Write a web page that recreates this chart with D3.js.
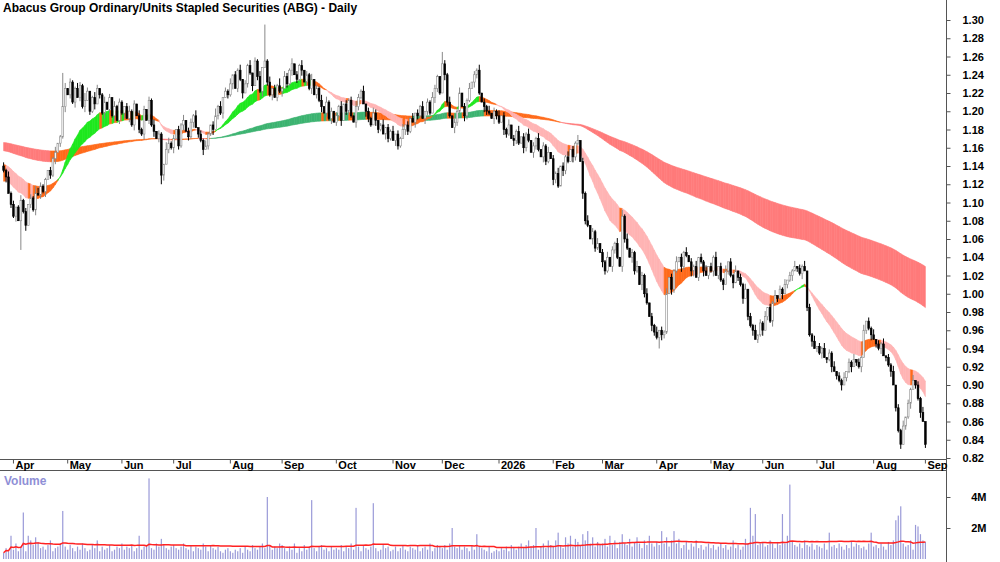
<!DOCTYPE html>
<html>
<head>
<meta charset="utf-8">
<script src="https://cdn.jsdelivr.net/npm/d3@7"></script>
<style>
body { margin: 0; background: #fff; }
text { font-family: "Liberation Sans", Arial, sans-serif; }
</style>
</head>
<body>
<script>
var svgWidth = 1000;
var svgHeight = 562;

// closing prices, in tenths of a cent (1135 = $1.135), one per trading day from 26 Mar 2025
var closes = [
  1135, 1128, 1110, 1098,
  // Apr
  1085, 1095, 1080, 1102, 1090, 1075, 1098, 1105, 1092, 1110, 1108, 1118, 1112, 1125, 1135, 1130, 1148, 1155, 1165, 1172, 1205, 1225,
  // May
  1218, 1232, 1210, 1225, 1215, 1228, 1205, 1212, 1222, 1200, 1215, 1208, 1225, 1218, 1198, 1210, 1202, 1215, 1195, 1205, 1190, 1210,
  // Jun
  1198, 1205, 1192, 1200, 1185, 1208, 1195, 1180, 1175, 1202, 1190, 1212, 1185, 1178, 1170, 1175, 1130, 1142, 1158, 1165, 1160,
  // Jul
  1170, 1180, 1162, 1185, 1190, 1178, 1172, 1188, 1195, 1182, 1175, 1168, 1158, 1162, 1175, 1185, 1180, 1195, 1205, 1198, 1215, 1222, 1218,
  // Aug
  1230, 1240, 1225, 1245, 1235, 1220, 1230, 1250, 1242, 1228, 1255, 1238, 1222, 1248, 1255, 1232, 1218, 1225, 1215, 1228, 1222,
  // Sep
  1225, 1238, 1230, 1245, 1252, 1240, 1235, 1250, 1245, 1232, 1240, 1225, 1235, 1218, 1225, 1212, 1205, 1198, 1210, 1192, 1200, 1188,
  // Oct
  1195, 1205, 1190, 1208, 1200, 1212, 1195, 1188, 1205, 1215, 1222, 1208, 1200, 1192, 1185, 1198, 1190, 1180, 1185, 1175, 1182, 1170, 1178,
  // Nov
  1168, 1175, 1162, 1170, 1180, 1185, 1178, 1192, 1188, 1198, 1195, 1205, 1192, 1200, 1210, 1198, 1215, 1225, 1238, 1220,
  // Dec
  1252, 1240, 1210, 1195, 1182, 1188, 1200, 1220, 1205, 1195, 1212, 1225, 1232, 1240, 1245, 1220, 1210, 1205, 1200, 1198, 1192, 1200, 1195,
  // Jan 2026
  1188, 1195, 1180, 1175, 1185, 1170, 1168, 1178, 1165, 1172, 1160, 1175, 1168, 1155, 1162, 1170, 1158, 1150, 1162, 1145, 1155, 1148,
  // Feb
  1125, 1132, 1118, 1140, 1135, 1150, 1145, 1158, 1150, 1165, 1168, 1145, 1110, 1080, 1075, 1060, 1068, 1050, 1055, 1045,
  // Mar
  1035, 1025, 1040, 1030, 1048, 1055, 1040, 1030, 1085, 1060, 1050, 1040, 1045, 1025, 1030, 1010, 1020, 1000, 990, 975, 965, 958,
  // Apr
  952, 960, 955, 958, 1000, 1018, 1005, 1025, 1035, 1040, 1030, 1045, 1042, 1035, 1025, 1030, 1018, 1040, 1035, 1025, 1020, 1030,
  // May
  1025, 1040, 1020, 1030, 1015, 1010, 1025, 1035, 1020, 1012, 1025, 1018, 1010, 995, 1005, 975, 965, 960, 950, 955, 968,
  // Jun
  960, 975, 985, 970, 990, 998, 995, 1005, 1000, 1010, 1015, 1020, 1025, 1030, 1028, 1022, 1030, 1025, 985, 955, 948, 940,
  // Jul
  942, 935, 940, 930, 928, 935, 920, 915, 910, 905, 900, 908, 915, 925, 920, 928, 925, 920, 930, 960, 970, 962, 955,
  // Aug
  950, 945, 940, 945, 932, 930, 922, 915, 900, 875, 850, 835, 855, 865, 880, 895, 905, 900, 885, 870, 860,
  // Sep
  835
];

// wick lengths above / below the body, one digit per day, in steps of 0.2c
var upperWicks =
  "2131201312021432110213012302113214201320130203121023120312021302104312" +
  "0213022130213102413021302130213021302130214032130213021302130312021302" +
  "1203213021320130213021302130213021321032130213021302130213021302130213" +
  "0213021302130213021302130213021302130213021302130213021302130213021302" +
  "1302130213021302130213021302130213021302130213021302130213021302130213" +
  "0213021302130213021302130213021302130";
var lowerWicks =
  "1302130213021302130213021302130213021302130213021302130213021302130213" +
  "0213021302130213021302130213021302130213021302130213021302130213021302" +
  "2103210321032103210321032103210321032103210321032103210321032103210321" +
  "0321032103210321032103210321032103210321032103210321032103210321032103" +
  "3021302130213021302130213021302130213021302130213021302130213021302130" +
  "2130213021302130213021302130213021302";

// days with a long tail, [day index, high, low]
var spikes = [
  [7, null, 1048], [24, 1242, null], [64, null, 1120], [106, 1295, null],
  [178, 1265, null], [251, 1092, null], [266, null, 940], [353 + 11, null, 830]
];

// daily volume, in units of 100k shares
var volumes = [
  4, 7, 5, 15,
  6, 10, 5, 8, 30, 5, 15, 12, 9, 14, 11, 7, 8, 6, 9, 12, 5, 7, 8, 10, 31, 8,
  6, 9, 7, 5, 8, 6, 10, 7, 5, 6, 9, 7, 12, 5, 8, 6, 7, 9, 5, 6, 8, 7,
  10, 6, 8, 7, 9, 5, 7, 15, 6, 8, 9, 52, 7, 6, 10, 8, 13, 9, 7, 6, 8,
  9, 7, 6, 8, 10, 7, 6, 9, 5, 8, 7, 6, 10, 8, 5, 9, 7, 6, 8, 5, 4, 6, 7,
  5, 4, 6, 5, 7, 4, 8, 6, 5, 9, 7, 6, 8, 10, 7, 40, 9, 6, 8, 7, 10,
  9, 7, 5, 8, 6, 10, 4, 7, 5, 9, 6, 8, 38, 7, 5, 8, 9, 6, 7, 5, 8, 6,
  7, 6, 9, 5, 8, 7, 10, 6, 33, 8, 5, 9, 7, 6, 8, 36, 7, 5, 6, 9, 7, 8, 5,
  6, 8, 5, 7, 9, 6, 5, 8, 7, 6, 9, 5, 7, 8, 6, 10, 5, 7, 9, 8,
  7, 9, 6, 10, 20, 8, 7, 9, 6, 8, 7, 5, 9, 6, 16, 8, 7, 6, 5, 8, 4, 5, 6,
  5, 7, 6, 8, 5, 9, 7, 6, 8, 10, 7, 9, 12, 8, 9, 20, 6, 8, 10, 7, 12, 9,
  8, 12, 17, 9, 7, 14, 10, 15, 8, 13, 11, 9, 16, 12, 18, 10, 14, 8, 11, 9,
  10, 13, 8, 15, 9, 12, 7, 11, 16, 10, 9, 13, 8, 11, 14, 10, 7, 12, 9, 15, 10, 8,
  11, 9, 18, 10, 14, 8, 12, 18, 10, 13, 7, 9, 11, 6, 10, 8, 12, 7, 9, 6, 8, 10,
  7, 9, 6, 8, 10, 7, 9, 6, 8, 12, 7, 9, 6, 8, 13, 10, 33, 15, 29, 9, 10,
  11, 8, 9, 12, 10, 7, 11, 9, 29, 10, 15, 48, 11, 9, 8, 10, 7, 12, 9, 8, 10, 6,
  9, 8, 7, 10, 6, 17, 8, 9, 7, 10, 8, 6, 9, 7, 11, 8, 10, 9, 7, 8, 6, 10, 17,
  8, 9, 7, 10, 8, 6, 11, 9, 12, 25, 28, 34, 10, 8, 9, 12, 6, 22, 21, 16, 12,
  11
];

var monthNames = ["2026", "Feb", "Mar", "Apr", "May", "Jun", "Jul", "Aug", "Sep", "Oct", "Nov", "Dec"];
var priceTicks = d3.range(82, 131, 2).map(function(d) { return d / 100; });
var volumeTicks = [2e6, 4e6];

// ribbon settings: EMA periods and the values they carry in from before the chart
var shortPeriods = [20, 35], shortSeed = [1.122, 1.142];
var longPeriods = [140, 230], longSeed = [1.157, 1.166];

var svg = d3.select("body").append("svg").attr("width", svgWidth).attr("height", svgHeight);

// trading days
var dates = [];
var day = new Date(2025, 2, 26);
while (dates.length < closes.length) {
    if (day.getDay() != 0 && day.getDay() != 6) dates.push(new Date(day));
    day = d3.timeDay.offset(day, 1);
}

var bars = closes.map(function(c, i) {
    var close = c / 1000;
    var open = (i == 0 ? 1140 : closes[i - 1]) / 1000;
    var up = +(upperWicks.charAt(i) || 1) * 0.002;
    var dn = +(lowerWicks.charAt(i) || 1) * 0.002;
    return { i: i, date: dates[i], open: open, close: close,
             high: Math.max(open, close) + up, low: Math.min(open, close) - dn,
             volume: volumes[i] * 1e5 };
});
spikes.forEach(function(s) {
    if (s[1] != null) bars[s[0]].high = s[1] / 1000;
    if (s[2] != null) bars[s[0]].low = s[2] / 1000;
});

var x = d3.scaleBand().domain(d3.range(bars.length)).range([2, 927]).padding(0.3);
var y = d3.scaleLinear().domain([0.82, 1.30]).range([458, 20]);
var yVol = d3.scaleLinear().domain([0, 6e6]).range([559, 466]);
var cx = function(i) { return x(i) + x.bandwidth() / 2; };

function ema(period, seed) {
    var k = 2 / (period + 1), v = seed, out = [];
    bars.forEach(function(b) { v = b.close * k + v * (1 - k); out.push(v); });
    return out;
}

function drawRibbon(fast, slow, colours) {
    for (var i = 1; i < bars.length; i++) {
        var colour;
        if (fast[i] > slow[i] && fast[i] >= fast[i - 1]) colour = colours.up;
        else if (fast[i] < slow[i] && fast[i] <= fast[i - 1]) colour = colours.down;
        else colour = colours.mixed;
        var pts = [[cx(i - 1), y(fast[i - 1])], [cx(i), y(fast[i])], [cx(i), y(slow[i])], [cx(i - 1), y(slow[i - 1])]];
        svg.append("polygon")
            .attr("points", pts.map(function(p) { return p.join(","); }).join(" "))
            .attr("fill", colour)
            .attr("stroke", colour)
            .attr("stroke-width", 0.6);
    }
}

// long term ribbon
drawRibbon(ema(longPeriods[0], longSeed[0]), ema(longPeriods[1], longSeed[1]),
    { up: "#3cb371", down: "#ff7b7b", mixed: "#ff6a1a" });
// short term ribbon
drawRibbon(ema(shortPeriods[0], shortSeed[0]), ema(shortPeriods[1], shortSeed[1]),
    { up: "#1ee81e", down: "#ffb4b4", mixed: "#ff6a1a" });

// candles
var candles = svg.append("g").selectAll("g").data(bars).join("g");
candles.append("line")
    .attr("x1", function(d) { return cx(d.i); })
    .attr("x2", function(d) { return cx(d.i); })
    .attr("y1", function(d) { return y(d.high); })
    .attr("y2", function(d) { return y(d.low); })
    .attr("stroke", function(d) { return d.close < d.open ? "#000" : "#888"; })
    .attr("stroke-width", 1);
candles.append("rect")
    .attr("x", function(d) { return x(d.i); })
    .attr("width", x.bandwidth())
    .attr("y", function(d) { return y(Math.max(d.open, d.close)); })
    .attr("height", function(d) { return Math.max(1, Math.abs(y(d.open) - y(d.close))); })
    .attr("fill", function(d) { return d.close < d.open ? "#000" : "#fff"; })
    .attr("stroke", function(d) { return d.close < d.open ? "#000" : "#888"; })
    .attr("stroke-width", 0.6);

// frame lines
svg.append("line").attr("x1", 946.5).attr("x2", 946.5).attr("y1", 0).attr("y2", 562).attr("stroke", "#555");
svg.append("line").attr("x1", 0).attr("x2", 946.5).attr("y1", 459.5).attr("y2", 459.5).attr("stroke", "#555");
svg.append("line").attr("x1", 0).attr("x2", 946.5).attr("y1", 470.5).attr("y2", 470.5).attr("stroke", "#555");

// price axis
var yAxis = svg.append("g").attr("transform", "translate(946.5,0)")
    .call(d3.axisRight(y).tickValues(priceTicks).tickFormat(d3.format(".2f")).tickSize(4).tickPadding(12));
yAxis.select(".domain").remove();
yAxis.selectAll("text").attr("font-size", 11).attr("font-weight", "bold").attr("font-family", "Liberation Sans, Arial");
yAxis.selectAll("line").attr("stroke", "#555");

// month axis
var monthStarts = bars.filter(function(d, i) { return i > 0 && d.date.getMonth() != bars[i - 1].date.getMonth(); });
var xAxis = svg.append("g").attr("transform", "translate(0,459.5)")
    .call(d3.axisBottom(x).tickValues(monthStarts.map(function(d) { return d.i; }))
        .tickFormat(function(i) { var m = bars[i].date.getMonth(); return monthNames[m]; })
        .tickSize(4).tickPadding(-1));
xAxis.select(".domain").remove();
xAxis.selectAll("line").attr("stroke", "#555");
xAxis.selectAll("text").attr("text-anchor", "start").attr("dx", 2).attr("dy", "0.55em")
    .attr("font-size", 11).attr("font-weight", "bold").attr("font-family", "Liberation Sans, Arial");

// volume bars
svg.append("g").selectAll("rect").data(bars).join("rect")
    .attr("x", function(d) { return cx(d.i) - 0.6; })
    .attr("width", 1.2)
    .attr("y", function(d) { return yVol(d.volume); })
    .attr("height", function(d) { return yVol(0) - yVol(d.volume); })
    .attr("fill", "#9a9ad8");

// volume average
var volAvg = bars.map(function(d, i) {
    return d3.mean(bars.slice(Math.max(0, i - 49), i + 1), function(b) { return b.volume; });
});
svg.append("path")
    .datum(volAvg)
    .attr("d", d3.line().x(function(d, i) { return cx(i); }).y(function(d) { return yVol(d); }))
    .attr("fill", "none")
    .attr("stroke", "#ff2222")
    .attr("stroke-width", 1.5);

var vAxis = svg.append("g").attr("transform", "translate(946.5,0)")
    .call(d3.axisRight(yVol).tickValues(volumeTicks).tickFormat(function(d) { return d / 1e6 + "M"; }).tickSize(4).tickPadding(36));
vAxis.select(".domain").remove();
vAxis.selectAll("line").attr("stroke", "#555");
vAxis.selectAll("text").attr("text-anchor", "end").attr("font-size", 11).attr("font-weight", "bold").attr("font-family", "Liberation Sans, Arial");

svg.append("text").attr("x", 4).attr("y", 485).text("Volume")
    .attr("font-size", 12).attr("font-weight", "bold").attr("fill", "#8f8fd6");

svg.append("text").attr("x", 3).attr("y", 12).text("Abacus Group Ordinary/Units Stapled Securities (ABG) - Daily")
    .attr("font-size", 12).attr("font-weight", "bold").attr("fill", "#000");
</script>
</body>
</html>
